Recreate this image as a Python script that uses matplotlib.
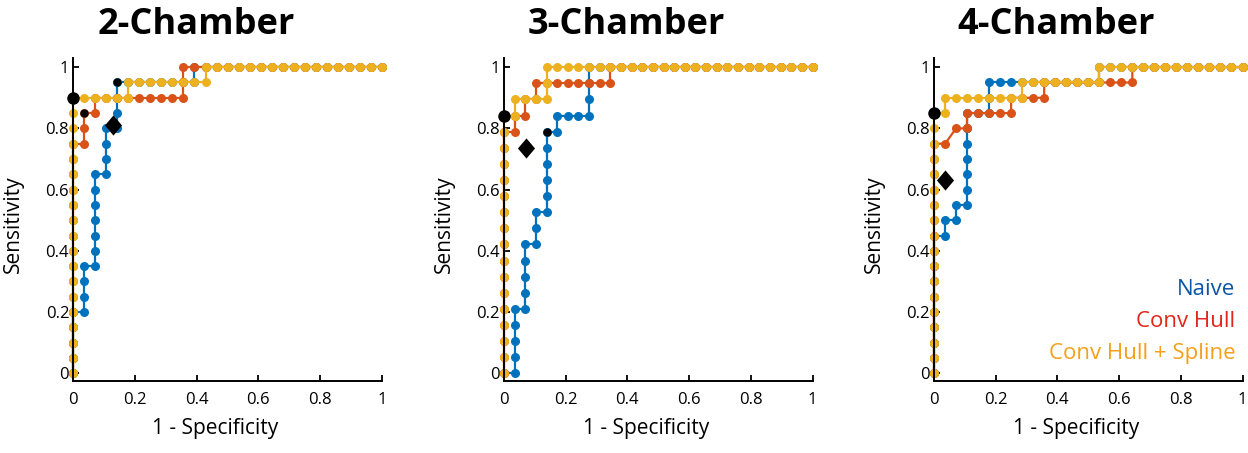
import numpy as np
import matplotlib.pyplot as plt

plt.rcParams['font.family'] = ['Open Sans', 'DejaVu Sans']

# ROC points as (false positive count, true positive count), one marker per threshold
# ---- 2-Chamber: 28 negatives, 20 positives
n_neg_2ch, n_pos_2ch = 28, 20
naive_fp_2ch = [0, 0, 0, 0, 0, 1, 1, 1, 1, 2, 2, 2, 2, 2, 2, 2, 3, 3, 3, 3, 4, 4, 4, 4,
                5, 6, 7, 8, 9, 10, 11, 11, 12, 13, 14, 15, 16, 17, 18, 19, 20, 21, 22,
                23, 24, 25, 26, 27, 28]
naive_tp_2ch = [0, 1, 2, 3, 4, 4, 5, 6, 7, 7, 8, 9, 10, 11, 12, 13, 13, 14, 15, 16, 16, 17, 18, 19,
                19, 19, 19, 19, 19, 19, 19, 20, 20, 20, 20, 20, 20, 20, 20, 20, 20, 20, 20,
                20, 20, 20, 20, 20, 20]
hull_fp_2ch = [0, 0, 0, 0, 0, 0, 0, 0, 0, 0, 0, 0, 0, 0, 0, 0, 1, 1, 1, 2, 2,
               3, 4, 5, 6, 7, 8, 9, 10, 10, 10, 11, 12, 13, 14, 15, 16, 17, 18, 19,
               20, 21, 22, 23, 24, 25, 26, 27, 28]
hull_tp_2ch = [0, 1, 2, 3, 4, 5, 6, 7, 8, 9, 10, 11, 12, 13, 14, 15, 15, 16, 17, 17, 18,
               18, 18, 18, 18, 18, 18, 18, 18, 19, 20, 20, 20, 20, 20, 20, 20, 20, 20, 20,
               20, 20, 20, 20, 20, 20, 20, 20, 20]
spline_fp_2ch = [0, 0, 0, 0, 0, 0, 0, 0, 0, 0, 0, 0, 0, 0, 0, 0, 0, 0, 0, 1, 2, 3, 4, 5,
                 5, 6, 7, 8, 9, 10, 11, 12, 12, 13, 14, 15, 16, 17, 18, 19, 20, 21, 22,
                 23, 24, 25, 26, 27, 28]
spline_tp_2ch = [0, 1, 2, 3, 4, 5, 6, 7, 8, 9, 10, 11, 12, 13, 14, 15, 16, 17, 18, 18, 18, 18, 18, 18,
                 19, 19, 19, 19, 19, 19, 19, 19, 20, 20, 20, 20, 20, 20, 20, 20, 20, 20, 20,
                 20, 20, 20, 20, 20, 20]

# ---- 3-Chamber: 29 negatives, 19 positives
n_neg_3ch, n_pos_3ch = 29, 19
naive_fp_3ch = [0, 1, 1, 1, 1, 1, 2, 2, 2, 2, 2, 3, 3, 3, 4, 4, 4, 4, 4, 4, 5, 5, 6, 7, 8, 8, 8, 8,
                9, 10, 11, 12, 13, 14, 15, 16, 17, 18, 19, 20, 21, 22, 23, 24, 25, 26, 27, 28, 29]
naive_tp_3ch = [0, 0, 1, 2, 3, 4, 4, 5, 6, 7, 8, 8, 9, 10, 10, 11, 12, 13, 14, 15, 15, 16, 16, 16, 16, 17, 18, 19,
                19, 19, 19, 19, 19, 19, 19, 19, 19, 19, 19, 19, 19, 19, 19, 19, 19, 19, 19, 19, 19]
hull_fp_3ch = [0, 0, 0, 0, 0, 0, 0, 0, 0, 0, 0, 0, 0, 0, 0, 0, 1, 1, 2, 2, 3, 3,
               4, 5, 6, 7, 8, 9, 10, 10, 11, 12, 13, 14, 15, 16, 17, 18, 19, 20, 21,
               22, 23, 24, 25, 26, 27, 28, 29]
hull_tp_3ch = [0, 1, 2, 3, 4, 5, 6, 7, 8, 9, 10, 11, 12, 13, 14, 15, 15, 16, 16, 17, 17, 18,
               18, 18, 18, 18, 18, 18, 18, 19, 19, 19, 19, 19, 19, 19, 19, 19, 19, 19, 19,
               19, 19, 19, 19, 19, 19, 19, 19]
spline_fp_3ch = [0, 0, 0, 0, 0, 0, 0, 0, 0, 0, 0, 0, 0, 0, 0, 0, 0, 1, 1, 2, 3, 4, 4, 4,
                 5, 6, 7, 8, 9, 10, 11, 12, 13, 14, 15, 16, 17, 18, 19, 20, 21, 22, 23,
                 24, 25, 26, 27, 28, 29]
spline_tp_3ch = [0, 1, 2, 3, 4, 5, 6, 7, 8, 9, 10, 11, 12, 13, 14, 15, 16, 16, 17, 17, 17, 17, 18, 19,
                 19, 19, 19, 19, 19, 19, 19, 19, 19, 19, 19, 19, 19, 19, 19, 19, 19, 19, 19,
                 19, 19, 19, 19, 19, 19]

# ---- 4-Chamber: 28 negatives, 20 positives
n_neg_4ch, n_pos_4ch = 28, 20
naive_fp_4ch = [0, 0, 0, 0, 0, 0, 0, 0, 0, 0, 1, 1, 2, 2, 3, 3, 3, 3, 3, 3, 3, 4, 5, 5, 5,
                6, 7, 8, 9, 10, 11, 12, 13, 14, 15, 15, 16, 17, 18, 19, 20, 21, 22, 23,
                24, 25, 26, 27, 28]
naive_tp_4ch = [0, 1, 2, 3, 4, 5, 6, 7, 8, 9, 9, 10, 10, 11, 11, 12, 13, 14, 15, 16, 17, 17, 17, 18, 19,
                19, 19, 19, 19, 19, 19, 19, 19, 19, 19, 20, 20, 20, 20, 20, 20, 20, 20, 20,
                20, 20, 20, 20, 20]
hull_fp_4ch = [0, 0, 0, 0, 0, 0, 0, 0, 0, 0, 0, 0, 0, 0, 0, 0, 1, 2, 3, 3, 4, 5, 6, 7, 7,
               8, 9, 10, 10, 11, 12, 13, 14, 15, 16, 17, 18, 18, 19, 20, 21, 22, 23,
               24, 25, 26, 27, 28]
hull_tp_4ch = [0, 1, 2, 3, 4, 5, 6, 7, 8, 9, 10, 11, 12, 13, 14, 15, 15, 16, 16, 17, 17, 17, 17, 17, 18,
               18, 18, 18, 19, 19, 19, 19, 19, 19, 19, 19, 19, 20, 20, 20, 20, 20, 20,
               20, 20, 20, 20, 20]
spline_fp_4ch = [0, 0, 0, 0, 0, 0, 0, 0, 0, 0, 0, 0, 0, 0, 0, 0, 0, 0, 1, 1, 2, 3, 4, 5, 6, 7, 8,
                 8, 9, 10, 11, 12, 13, 14, 15, 15, 16, 17, 18, 19, 20, 21, 22, 23, 24,
                 25, 26, 27, 28]
spline_tp_4ch = [0, 1, 2, 3, 4, 5, 6, 7, 8, 9, 10, 11, 12, 13, 14, 15, 16, 17, 17, 18, 18, 18, 18, 18, 18, 18, 18,
                 19, 19, 19, 19, 19, 19, 19, 19, 20, 20, 20, 20, 20, 20, 20, 20, 20, 20,
                 20, 20, 20, 20]

# operating points (1 - specificity, sensitivity)
big_dot_x = [0.0, 0.0, 0.0]
big_dot_y = [0.90, 16 / 19, 0.85]
small_dots_x = [[1 / 28, 4 / 28], [4 / 29], []]
small_dots_y = [[0.85, 0.95], [15 / 19], []]
diamond_x = [0.128, 0.071, 0.035]
diamond_y = [0.81, 0.735, 0.631]

titles = ['2-Chamber', '3-Chamber', '4-Chamber']
ticks = [0, 0.2, 0.4, 0.6, 0.8, 1]
tick_labels = ['0', '0.2', '0.4', '0.6', '0.8', '1']
legend_names = ['Naive', 'Conv Hull', 'Conv Hull + Spline']

c_blue = '#0072BD'
c_red = '#D95319'
c_orange = '#EDB120'
legend_colors = ['#0a56a8', '#e2261c', '#f5a01a']

# slightly wide diamond like the MATLAB one
diamond = [(0, 1), (0.85, 0), (0, -1), (-0.85, 0), (0, 1)]

panels = [
    (n_neg_2ch, n_pos_2ch, [(naive_fp_2ch, naive_tp_2ch), (hull_fp_2ch, hull_tp_2ch), (spline_fp_2ch, spline_tp_2ch)]),
    (n_neg_3ch, n_pos_3ch, [(naive_fp_3ch, naive_tp_3ch), (hull_fp_3ch, hull_tp_3ch), (spline_fp_3ch, spline_tp_3ch)]),
    (n_neg_4ch, n_pos_4ch, [(naive_fp_4ch, naive_tp_4ch), (hull_fp_4ch, hull_tp_4ch), (spline_fp_4ch, spline_tp_4ch)]),
]

fig = plt.figure(figsize=(12.48, 4.53), dpi=100)
lefts = [73.3 / 1248, 504 / 1248, 934 / 1248]
W = 308.5 / 1248
B = (453 - 381) / 453
H = (381 - 58) / 453

for k in range(3):
    ax = fig.add_axes([lefts[k], B, W, H])
    n_neg, n_pos, curves = panels[k]
    for (fp, tp), col in zip(curves, [c_blue, c_red, c_orange]):
        ax.plot(np.array(fp) / n_neg, np.array(tp) / n_pos, '-o', color=col, lw=1.6,
                ms=6.5, mew=0, clip_on=False)
    ax.plot(big_dot_x[k], big_dot_y[k], 'o', color='black', ms=9, mew=0, clip_on=False, zorder=5)
    ax.plot(small_dots_x[k], small_dots_y[k], 'o', color='black', ms=6, mew=0, zorder=5)
    ax.plot(diamond_x[k], diamond_y[k], marker=diamond, ls='none', color='black', ms=14.5, mew=0, zorder=5)

    ax.set_xlim(0, 1)
    ax.set_ylim(-0.025, 1.03)
    ax.spines['top'].set_visible(False)
    ax.spines['right'].set_visible(False)
    for s in ['left', 'bottom']:
        ax.spines[s].set_linewidth(1.4)
    ax.set_xticks(ticks)
    ax.set_xticklabels(tick_labels)
    ax.set_yticks(ticks)
    ax.set_yticklabels(tick_labels)
    ax.tick_params(direction='in', length=4, width=1.3, labelsize=12)
    ax.tick_params(axis='x', pad=8)
    ax.tick_params(axis='y', pad=3)

    ax.set_xlabel('1 - Specificity', fontsize=15)
    ax.xaxis.set_label_coords(0.46, -0.115)
    ax.set_ylabel('Sensitivity', fontsize=15)
    ax.yaxis.set_label_coords(-0.16, 0.485)

    ax.text(0.397, 1.073, titles[k], transform=ax.transAxes, ha='center', va='baseline',
            fontsize=26, fontweight='bold')

    if k == 2:
        for name, col, yy in zip(legend_names, legend_colors, [0.266, 0.168, 0.068]):
            ax.text(0.977, yy, name, transform=ax.transAxes, ha='right', va='baseline',
                    fontsize=16, color=col)

fig.savefig('out.png', dpi=100)
